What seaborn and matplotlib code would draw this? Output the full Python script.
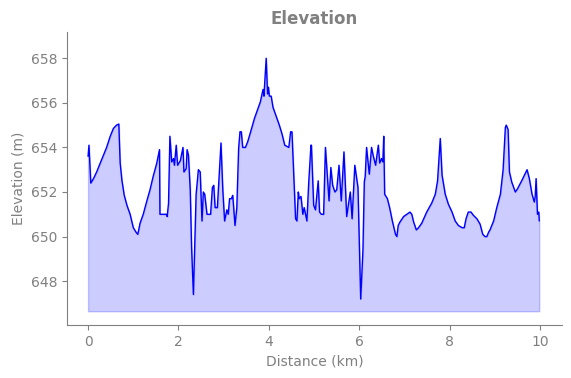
import numpy as np
import pandas as pd
import seaborn as sns
import matplotlib
matplotlib.use("Agg")
import matplotlib.pyplot as plt

# distance (km) and elevation (m)
distance_km = [
    0.00, 0.02, 0.06, 0.12, 0.19, 0.27, 0.34, 0.41, 0.49, 0.56, 0.63, 0.68, 0.71, 0.75, 0.80,
    0.86, 0.93, 1.00, 1.06, 1.10, 1.15, 1.22, 1.30, 1.37, 1.44, 1.52, 1.58, 1.59, 1.73, 1.75,
    1.78, 1.81, 1.85, 1.89, 1.91, 1.95, 1.98, 2.04, 2.10, 2.12, 2.17, 2.19, 2.22, 2.26, 2.29,
    2.33, 2.39, 2.44, 2.48, 2.52, 2.55, 2.58, 2.63, 2.71, 2.75, 2.78, 2.81, 2.86, 2.94, 2.98,
    3.02, 3.07, 3.10, 3.13, 3.17, 3.20, 3.22, 3.25, 3.29, 3.33, 3.36, 3.39, 3.42, 3.48, 3.53,
    3.61, 3.68, 3.75, 3.81, 3.87, 3.89, 3.94, 3.97, 3.99, 4.01, 4.05, 4.09, 4.16, 4.23, 4.29,
    4.35, 4.44, 4.48, 4.51, 4.59, 4.62, 4.65, 4.67, 4.71, 4.75, 4.78, 4.81, 4.84, 4.88, 4.93,
    4.94, 4.99, 5.03, 5.09, 5.12, 5.16, 5.21, 5.25, 5.33, 5.37, 5.41, 5.46, 5.50, 5.55, 5.60,
    5.66, 5.72, 5.80, 5.84, 5.90, 5.97, 6.03, 6.08, 6.11, 6.13, 6.16, 6.22, 6.27, 6.31, 6.36,
    6.42, 6.45, 6.49, 6.52, 6.54, 6.56, 6.62, 6.67, 6.73, 6.80, 6.83, 6.86, 6.90, 6.98, 7.05,
    7.12, 7.16, 7.20, 7.26, 7.31, 7.38, 7.49, 7.60, 7.68, 7.73, 7.79, 7.83, 7.90, 7.97, 8.05,
    8.12, 8.19, 8.27, 8.32, 8.36, 8.41, 8.47, 8.52, 8.60, 8.67, 8.73, 8.78, 8.82, 8.86, 8.89,
    8.97, 9.04, 9.12, 9.18, 9.23, 9.25, 9.29, 9.32, 9.37, 9.45, 9.50, 9.59, 9.71, 9.76, 9.82,
    9.87, 9.89, 9.91, 9.94, 9.97, 9.98,
]
elevation_m = [
    653.6, 654.1, 652.4, 652.6, 652.9, 653.3, 653.65, 654.0, 654.5, 654.85, 655.0, 655.05, 653.3, 652.5, 651.85,
    651.4, 651.0, 650.4, 650.2, 650.1, 650.6, 651.0, 651.6, 652.1, 652.7, 653.3, 653.9, 651.0, 651.0, 650.9,
    651.5, 654.5, 653.35, 653.5, 653.2, 654.1, 653.2, 653.4, 654.0, 652.9, 653.05, 653.9, 653.65, 652.1, 649.5,
    647.4, 651.9, 653.0, 652.9, 650.7, 652.0, 651.9, 651.0, 651.0, 652.2, 652.3, 651.3, 651.3, 654.2, 652.1,
    650.7, 651.2, 651.0, 651.7, 651.7, 651.85, 651.3, 650.5, 651.3, 653.95, 654.7, 654.7, 654.0, 654.0, 654.25,
    654.8, 655.3, 655.7, 656.04, 656.6, 656.3, 658.0, 656.4, 656.7, 656.3, 656.3, 655.8, 655.4, 655.0, 654.6,
    654.1, 654.0, 654.7, 654.7, 650.8, 650.7, 652.0, 651.7, 651.8, 651.0, 651.3, 651.0, 650.7, 652.4, 654.1,
    654.1, 651.4, 651.2, 652.5, 651.1, 651.0, 651.0, 654.0, 651.6, 653.1, 652.3, 652.0, 652.1, 653.2, 651.6,
    653.8, 650.9, 652.0, 650.8, 653.2, 652.2, 647.2, 649.4, 652.45, 652.7, 654.0, 652.8, 654.0, 653.6, 653.2,
    654.1, 653.3, 653.5, 653.35, 654.5, 651.9, 651.7, 651.3, 650.7, 650.1, 650.0, 650.5, 650.66, 650.9, 651.0,
    651.1, 651.0, 650.66, 650.3, 650.4, 650.6, 651.1, 651.5, 651.9, 652.5, 654.4, 652.75, 651.9, 651.45, 651.1,
    650.7, 650.5, 650.4, 650.4, 650.8, 651.1, 651.1, 650.96, 650.8, 650.56, 650.1, 650.0, 650.0, 650.2, 650.3,
    650.7, 651.3, 651.9, 653.0, 654.9, 655.0, 654.8, 652.9, 652.45, 652.0, 652.15, 652.5, 653.0, 652.6, 651.9,
    651.55, 651.8, 652.6, 651.0, 651.1, 650.7,
]

df = pd.DataFrame({"Distance (km)": distance_km, "Elevation (m)": elevation_m})
grey = "#808080"

sns.set_style("ticks")
plt.rcParams["font.family"] = ["DejaVu Sans"]

fig, ax = plt.subplots(figsize=(5.71, 3.78), dpi=100)
sns.lineplot(data=df, x="Distance (km)", y="Elevation (m)", color="blue", lw=1, ax=ax)
base = df["Elevation (m)"].min() - 0.55
ax.fill_between(df["Distance (km)"], df["Elevation (m)"], base, color="blue", alpha=0.2)

ax.set_title("Elevation", color=grey, fontsize=12, fontweight="bold")
ax.set_xlabel("Distance (km)", color=grey)
ax.set_ylabel("Elevation (m)", color=grey)
ax.set_xlim(-0.47, 10.48)
ax.set_ylim(646.03, 659.17)
ax.set_yticks([648, 650, 652, 654, 656, 658])
ax.tick_params(colors=grey)
for s in ax.spines.values():
    s.set_color(grey)
sns.despine(ax=ax)

plt.subplots_adjust(left=0.117, right=0.984, top=0.915, bottom=0.14)
plt.savefig("out.png", dpi=100)
